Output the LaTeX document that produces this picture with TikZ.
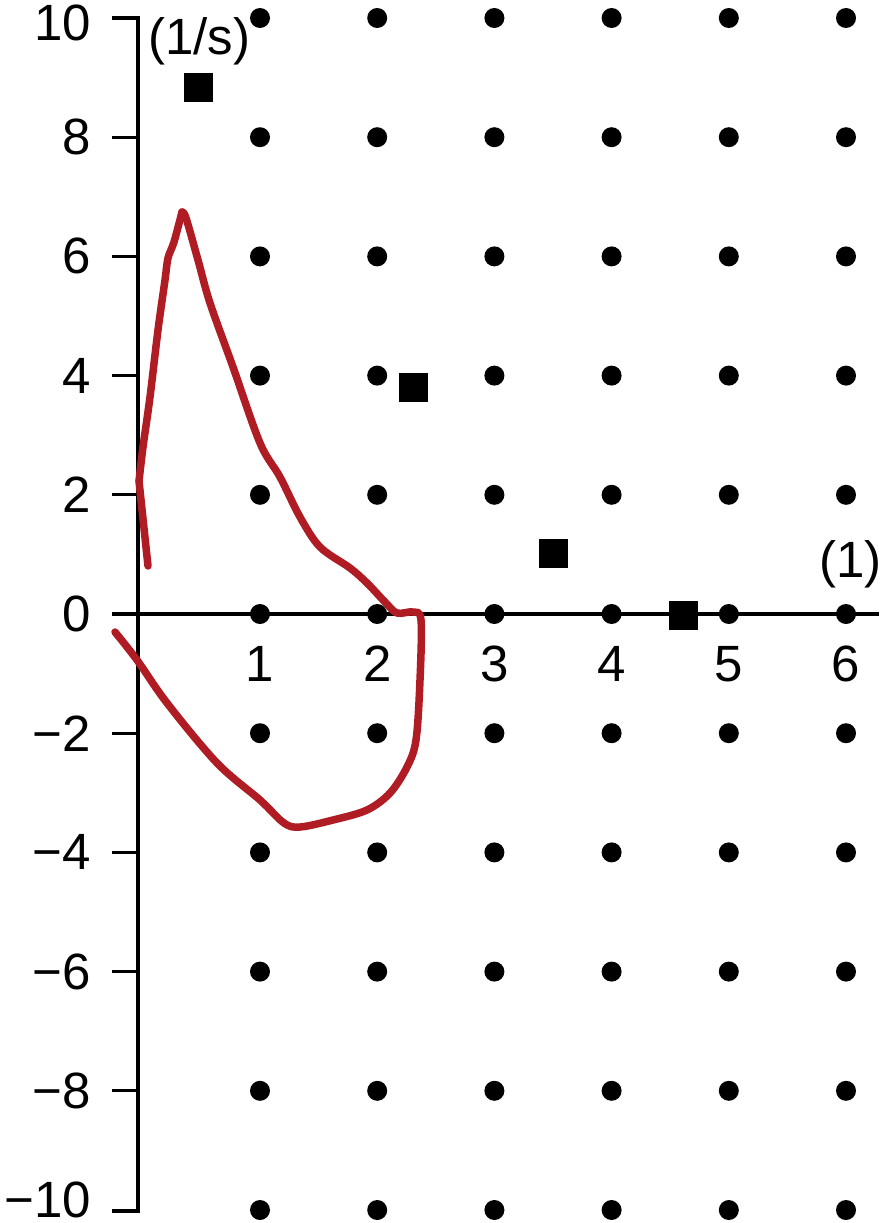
\documentclass[tikz,border=0pt]{standalone}
\usepackage{fontspec}
\setmainfont{Liberation Sans}
\definecolor{curvered}{RGB}{176,28,36}
\begin{document}
\begin{tikzpicture}[x=1pt,y=-1pt,
  axisline/.style={line width=3.2pt},
  dotmark/.style={fill=black},
  sqmark/.style={fill=black, draw=none, minimum size=29pt, inner sep=0pt, shape=rectangle},
  lbl/.style={font=\fontsize{51}{56}\selectfont, inner sep=0pt},
  redcurve/.style={draw=curvered, line width=7.5pt, line cap=round, line join=round}]
\useasboundingbox (0,0) rectangle (882,1223);
% grid dots
\foreach \i in {1,...,6}{
  \foreach \j in {-5,...,5}{
    \fill[dotmark] ({142.8+117.2*\i},{614-119.2*\j}) circle (10);
  }
}
% axes
\coordinate (ytop) at (138,18);
\coordinate (ybot) at (138,1211);
\coordinate (xl) at (112,614);
\coordinate (xr) at (879,614);
\draw[axisline] (112,18) -- (ytop) -- (ybot) -- (112,1211);
\draw[axisline] (xl) -- (xr);
\foreach \j in {-4,...,4}{
  \draw[axisline] (112,{614-119.2*\j}) -- (138,{614-119.2*\j});
}
% y labels
\foreach \j/\t in {4/8,3/6,2/4,1/2,0/0,-1/−2,-2/−4,-3/−6,-4/−8}{
  \node[lbl, anchor=east] (yl\j) at (91,{614-119.2*\j}) {\t};
}
\node[lbl, anchor=east] (yl5) at (91,23) {10};
\node[lbl, anchor=east] (ylm5) at (91,1200) {−10};
% x labels
\foreach \i in {1,...,6}{
  \node[lbl] (xl\i) at ({142.8+117.2*\i},664) {\i};
}
\node[lbl, anchor=west] (yunit) at (148,41) {(1/s)};
\node[lbl, anchor=east] (xunit) at (882,564) {(1)};
% squares
\node[sqmark] (s1) at (198.5,87.5) {};
\node[sqmark] (s2) at (413,387) {};
\node[sqmark] (s3) at (553.5,553.5) {};
\node[sqmark] (s4) at (683.5,615.5) {};
% red curve
\draw[redcurve] (148,566) -- (139,481);
\draw[redcurve] plot[smooth, tension=0.5] coordinates {(139,481) (143,447) (150,397) (158,330) (165,280) (168,258) (174,242) (182,212)};
\draw[redcurve] plot[smooth, tension=0.55] coordinates {(182,212) (186,218) (198,260) (210,303) (233,367) (260,443) (280,477) (300,517) (320,547) (350,568) (367,583) (385,602) (397,613) (413,612) (421,620) (420,680) (416,740) (407,767) (390,793) (367,810) (333,820) (300,827) (284,823) (260,800) (217,763) (167,703) (137,660) (115,632)};
\end{tikzpicture}
\end{document}
